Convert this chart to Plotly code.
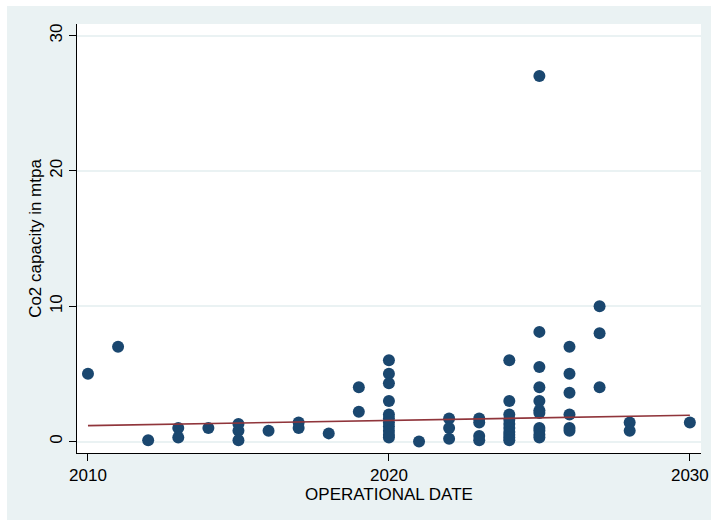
import plotly.graph_objects as go

years = [2010, 2011, 2012, 2013, 2013, 2014, 2015, 2015, 2015, 2016, 2017, 2017, 2018,
         2019, 2019,
         2020, 2020, 2020, 2020, 2020, 2020, 2020, 2020, 2020, 2020, 2020,
         2021, 2022, 2022, 2022,
         2023, 2023, 2023, 2023,
         2024, 2024, 2024, 2024, 2024, 2024, 2024, 2024, 2024, 2024,
         2025, 2025, 2025, 2025, 2025, 2025, 2025, 2025, 2025, 2025, 2025,
         2026, 2026, 2026, 2026, 2026, 2026,
         2027, 2027, 2027, 2028, 2028, 2030]
capacity = [5.0, 7.0, 0.1, 1.0, 0.3, 1.0, 1.3, 0.8, 0.1, 0.8, 1.4, 1.0, 0.6,
            4.0, 2.2,
            6.0, 5.0, 4.3, 3.0, 2.0, 1.7, 1.4, 1.1, 0.8, 0.5, 0.3,
            0.0, 1.7, 1.0, 0.2,
            1.7, 1.4, 0.4, 0.1,
            6.0, 3.0, 2.0, 1.6, 1.3, 1.0, 0.7, 0.5, 0.3, 0.1,
            27.0, 8.1, 5.5, 4.0, 3.0, 2.3, 2.1, 1.0, 0.8, 0.5, 0.3,
            7.0, 5.0, 3.6, 2.0, 1.0, 0.8,
            10.0, 8.0, 4.0, 1.4, 0.8, 1.4]

# fitted line endpoints
fit_x = [2010, 2030]
fit_y = [1.17, 1.94]

x_ticks = [2010, 2020, 2030]
y_ticks = [0, 10, 20, 30]

fig = go.Figure()
fig.add_trace(go.Scatter(x=years, y=capacity, mode="markers",
                         marker=dict(color="#1a476f", size=12, line=dict(width=0)),
                         showlegend=False))
fig.add_trace(go.Scatter(x=fit_x, y=fit_y, mode="lines",
                         line=dict(color="#90353b", width=1.6), showlegend=False))

font = dict(family="Liberation Sans, Arial, sans-serif", size=17, color="black")

fig.update_layout(
    width=711, height=520,
    margin=dict(l=77, r=10, t=24, b=67),
    paper_bgcolor="#EAF2F3",
    plot_bgcolor="white",
    font=font,
    xaxis=dict(range=[2009.635, 2030.37], tickvals=x_ticks, showgrid=False,
               zeroline=False, showline=True, linecolor="black", linewidth=1,
               ticks="outside", ticklen=7, tickcolor="black", automargin=False,
               title=dict(text="OPERATIONAL DATE", standoff=0, font=font)),
    yaxis=dict(range=[-0.85, 30.85], tickvals=y_ticks, showgrid=True,
               gridcolor="#EAF2F3", gridwidth=1.5, zeroline=False,
               showline=True, linecolor="black", linewidth=1, automargin=False,
               ticks="outside", ticklen=7, tickcolor="black", tickangle=-90,
               title=dict(text="Co2 capacity in mtpa", standoff=1, font=font)),
    shapes=[
        dict(type="rect", xref="paper", yref="paper",
             x0=-0.2, x1=-77 / 624 + 7 / 624, y0=-0.3, y1=1.2,
             fillcolor="white", line=dict(width=0), layer="above"),
        dict(type="rect", xref="paper", yref="paper",
             x0=-0.2, x1=1.2, y0=(453 - 6) / 429, y1=1.2,
             fillcolor="white", line=dict(width=0), layer="above"),
    ],
)

fig.write_html("out.html", config={"displayModeBar": False},
               post_script="document.body.style.margin='0';")
